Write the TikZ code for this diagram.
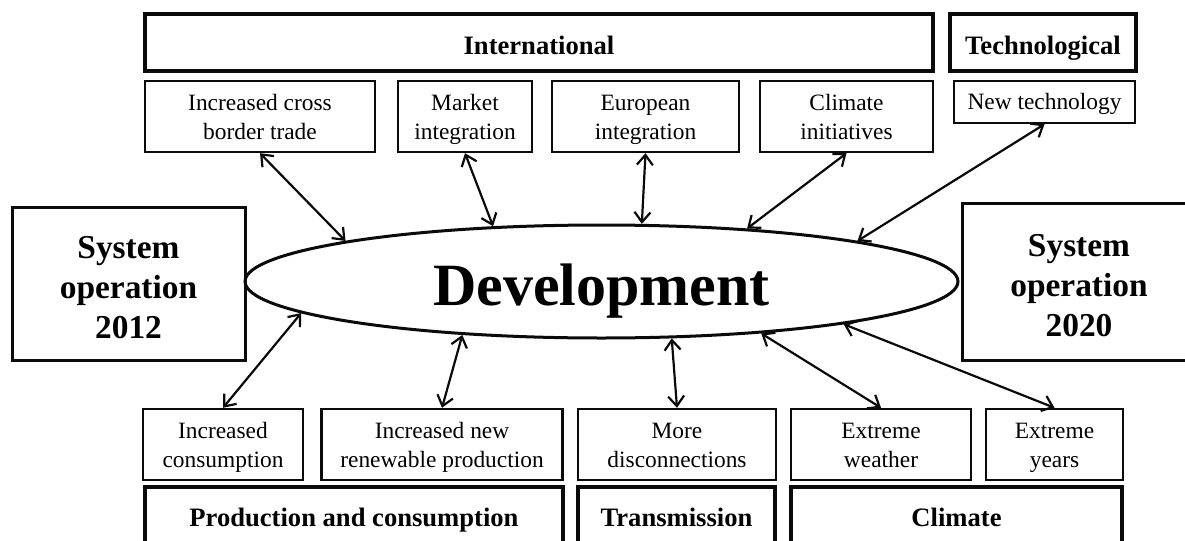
\documentclass[tikz,border=0pt]{standalone}
\usepackage{fontspec}
\setmainfont{Liberation Serif}
\usepackage{tikz}
\usetikzlibrary{positioning, arrows.meta, shapes.geometric}
\definecolor{ink}{RGB}{10,10,10}
\tikzset{
  factor/.style={draw=ink,line width=1.2pt,inner sep=0pt,align=center,
    font=\fontsize{11.7}{14.5}\selectfont,minimum height=35.5pt,
    text height=23pt,text depth=0pt},
  group/.style={draw=ink,line width=1.6pt,inner sep=0pt,align=center,
    font=\fontsize{13.3}{16}\selectfont\bfseries,text height=11.5pt,text depth=0pt},
  state/.style={draw=ink,line width=1.5pt,inner sep=0pt,align=center,
    font=\fontsize{16.7}{20}\selectfont\bfseries,text height=55.3pt,text depth=0pt},
  hub/.style={draw=ink,ellipse,line width=1.5pt,inner sep=0pt,
    font=\fontsize{30}{30}\selectfont\bfseries,text height=30pt,text depth=6.5pt},
  link/.style={{Straight Barb[length=5pt,width=8pt]}-{Straight Barb[length=5pt,width=8pt]},
    line width=1.1pt,draw=ink},
}

\begin{document}
\begin{tikzpicture}[x=0.5pt,y=-0.5pt]
  \clip (0,0) rectangle (1185,541);

  % drivers above
  \node[group,minimum width=394pt,minimum height=28.5pt] (intl) at (539,42.5) {International};
  \node[group,minimum width=93pt,minimum height=28.5pt] (tech) at (1043,42.5) {Technological};
  \node[factor,minimum width=115pt] (trade) at (260,116.5) {Increased cross\\border trade};
  \node[factor,minimum width=67pt] (market) at (465,116.5) {Market\\integration};
  \node[factor,minimum width=93.5pt] (europe) at (645.5,116.5) {European\\integration};
  \node[factor,minimum width=86.5pt] (climini) at (846.5,116.5) {Climate\\initiatives};
  \node[factor,minimum width=90.5pt,minimum height=21pt,text height=8pt,text depth=1pt] (newtech) at (1044.5,102) {New technology};

  % the two states and the change between them
  \node[state,minimum width=116.5pt,minimum height=76.5pt] (op12) at (128.5,283.5) {System\\operation\\2012};
  \node[state,minimum width=117pt,minimum height=78.5pt] (op20) at (1079,281.5) {System\\operation\\2020};
  \node[hub,minimum width=356.5pt,minimum height=56.5pt] (dev) at (601.5,281.5) {Development};

  % drivers below
  \node[factor,minimum width=80pt] (cons) at (223,444.5) {Increased\\consumption};
  \node[factor,minimum width=120.5pt] (renew) at (442,444.5) {Increased new\\renewable production};
  \node[factor,minimum width=99pt] (discon) at (677,444.5) {More\\disconnections};
  \node[factor,minimum width=90pt] (weather) at (881,444.5) {Extreme\\weather};
  \node[factor,minimum width=68.5pt] (years) at (1054.5,444.5) {Extreme\\years};
  \node[group,minimum width=209pt,minimum height=31.5pt,text height=9pt,text depth=1pt] (prod) at (354,518.5) {Production and consumption};
  \node[group,minimum width=98.5pt,minimum height=31.5pt,text height=9pt,text depth=1pt] (trans) at (676.5,518.5) {Transmission};
  \node[group,minimum width=165.5pt,minimum height=31.5pt,text height=9pt,text depth=1pt] (climate) at (956.5,518.5) {Climate};

  \draw[link] (trade.south) -- (dev.171);
  \draw[link] (market.south) -- (dev.153.5);
  \draw[link] (europe.south) -- (dev.55.3);
  \draw[link] (climini.south) -- (dev.20.6);
  \draw[link] (newtech.south) -- (dev.9.4);
  \draw[link] (cons.north) -- (dev.186.7);
  \draw[link] (renew.north) -- (dev.201.8);
  \draw[link] (discon.north) -- (dev.321.3);
  \draw[link] (weather.north) -- (dev.342.5);
  \draw[link] (years.north) -- (dev.350.5);
\end{tikzpicture}
\end{document}
